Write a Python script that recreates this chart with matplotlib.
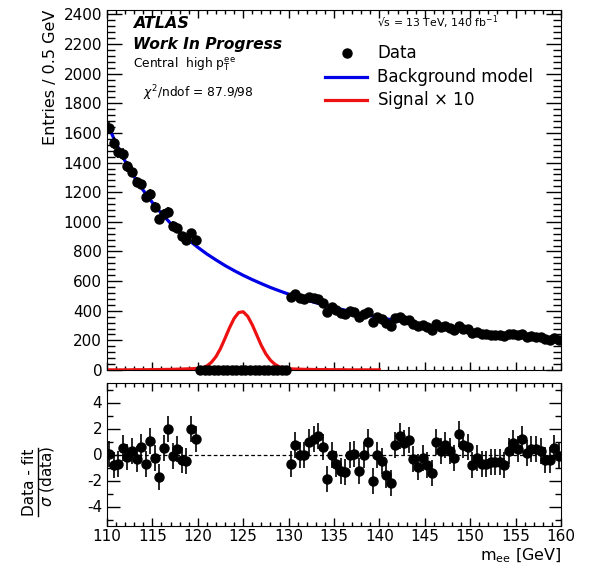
import numpy as np
import matplotlib
matplotlib.use("Agg")
import matplotlib.pyplot as plt
from matplotlib.ticker import MultipleLocator
from matplotlib.lines import Line2D

plt.rcParams["font.family"] = ["DejaVu Sans"]
plt.rcParams["mathtext.fontset"] = "dejavusans"
plt.rcParams["axes.unicode_minus"] = False

# ==============================
# Data (0.5 GeV bins, 120-130 GeV blinded)
# ==============================
low_centres = np.arange(110.25, 120.0, 0.5)
blind_centres = np.arange(120.25, 130.0, 0.5)
high_centres = np.arange(130.25, 160.0, 0.5)

data_low = [1633, 1533, 1472, 1458, 1376, 1339, 1268, 1256, 1165, 1186,
            1103, 1017, 1055, 1069, 972, 960, 903, 875, 922, 875]
data_high = [491, 513, 486, 476, 490, 485, 481, 454, 393, 425,
             403, 385, 377, 396, 391, 359, 375, 389, 325, 358,
             343, 316, 300, 349, 356, 340, 340, 309, 294, 301,
             288, 273, 310, 292, 296, 284, 271, 299, 280, 276,
             249, 254, 243, 241, 239, 236, 233, 227, 241, 246,
             236, 245, 226, 227, 225, 220, 207, 204, 216, 204]

pull_low = [0.05, -0.77, -0.7, 0.5, -0.2, 0.25, -0.35, 0.6, -0.75, 1.05,
            -0.25, -1.75, 0.5, 2.0, -0.1, 0.45, -0.45, -0.5, 1.95, 1.2]
pull_high = [-0.7, 0.7, -0.05, -0.05, 1.0, 1.2, 1.45, 0.6, -1.9, 0.0,
             -0.7, -1.3, -1.35, -0.05, 0.05, -1.25, -0.05, 1.0, -2.05, 0.0,
             -0.5, -1.6, -2.2, 0.7, 1.45, 0.85, 1.1, -0.35, -0.95, -0.3,
             -0.8, -1.4, 1.0, 0.25, 0.7, 0.25, -0.3, 1.6, 0.7, 0.6,
             -0.8, -0.3, -0.75, -0.7, -0.6, -0.55, -0.6, -0.8, 0.3, 0.85,
             0.4, 1.2, 0.15, 0.4, 0.4, 0.25, -0.45, -0.45, 0.5, -0.15]

# background fit evaluated every 1 GeV
bkg_mass = np.arange(110, 161, 1)
bkg_curve = [1665, 1529, 1409, 1304, 1212, 1130, 1056, 990, 931, 877,
             828, 783, 743, 705, 671, 639, 610, 583, 557, 534,
             512, 492, 472, 454, 437, 421, 407, 393, 379, 367,
             355, 343, 333, 322, 313, 304, 295, 286, 278, 271,
             264, 257, 250, 244, 237, 232, 226, 220, 215, 210, 205]

# signal shape (x10) every 0.5 GeV
sig_mass = np.arange(110, 140.25, 0.5)
sig_curve = [1, 1, 1, 1, 1, 1, 2, 2, 2, 2, 3, 3, 3, 4, 4, 5, 6, 7, 8, 9,
             11, 15, 27, 52, 90, 145, 214, 286, 348, 388,
             393, 362, 305, 235, 165, 108, 66, 38, 21, 13,
             9, 7, 6, 5, 4, 4, 3, 3, 3, 2, 2, 2, 2, 1, 1, 1, 1, 1, 1, 1, 1]

W, H = 590, 574
BLUE = "#0000e6"
RED = "#ee1111"


def fx(px):
    return px / W


def fy(py):
    return 1 - py / H


fig = plt.figure(figsize=(W / 100, H / 100), dpi=100)
ax = fig.add_axes([fx(107), fy(370), fx(561) - fx(107), fy(10) - fy(370)])
rax = fig.add_axes([fx(107), fy(526), fx(561) - fx(107), fy(383) - fy(526)])

# ==============================
# Main panel
# ==============================
ax.plot(bkg_mass, bkg_curve, color=BLUE, lw=2.3, zorder=2)
ax.plot(sig_mass, sig_curve, color=RED, lw=2.3, zorder=2)

data_low = np.array(data_low)
data_high = np.array(data_high)
ax.errorbar(low_centres, data_low, yerr=np.sqrt(data_low), fmt="o", color="black",
            ms=6.5, elinewidth=1.2, capsize=0, zorder=3)
ax.errorbar(high_centres, data_high, yerr=np.sqrt(data_high), fmt="o", color="black",
            ms=6.5, elinewidth=1.2, capsize=0, zorder=3)
ax.plot(blind_centres, np.zeros(len(blind_centres)), "o", color="black", ms=6.5,
        zorder=3, clip_on=False)

ax.set_xlim(110, 160)
ax.set_ylim(0, 2430)
ax.xaxis.set_major_locator(MultipleLocator(5))
ax.xaxis.set_minor_locator(MultipleLocator(1))
ax.yaxis.set_major_locator(MultipleLocator(200))
ax.yaxis.set_minor_locator(MultipleLocator(40))
ax.tick_params(axis="both", which="both", direction="in", top=True, right=True,
               labelbottom=False, labelsize=11, width=1)
ax.tick_params(axis="y", which="major", length=11)
ax.tick_params(axis="y", which="minor", length=5.5)
ax.tick_params(axis="x", which="major", length=6)
ax.tick_params(axis="x", which="minor", length=3)
ax.set_ylabel("Entries / 0.5 GeV", fontsize=11.5, loc="top", labelpad=4)

# labels
ax.text(fx(133), fy(23), "ATLAS", transform=fig.transFigure, fontsize=11.5,
        fontweight="bold", fontstyle="italic", va="center")
ax.text(fx(133), fy(44), "Work In Progress", transform=fig.transFigure, fontsize=11.2,
        fontweight="bold", fontstyle="italic", va="center")
ax.text(fx(133), fy(64), r"Central  high p$_{\mathrm{T}}^{\mathrm{ee}}$",
        transform=fig.transFigure, fontsize=8.8, va="center")
ax.text(fx(143), fy(93), r"$\chi^{2}$/ndof = 87.9/98", transform=fig.transFigure,
        fontsize=8.8, va="center")

# legend
ax.text(fx(377), fy(22), "\u221as = 13 TeV, 140 fb$^{-1}$", transform=fig.transFigure,
        fontsize=7.8, va="center")
fig.add_artist(Line2D([fx(347)], [fy(53)], marker="o", color="black", ms=6.5, lw=0))
fig.add_artist(Line2D([fx(325), fx(367)], [fy(77), fy(77)], color=BLUE, lw=2.3))
fig.add_artist(Line2D([fx(325), fx(367)], [fy(100), fy(100)], color=RED, lw=2.3))
ax.text(fx(377), fy(53), "Data", transform=fig.transFigure, fontsize=12, va="center")
ax.text(fx(377), fy(77), "Background model", transform=fig.transFigure, fontsize=12,
        va="center")
ax.text(fx(377), fy(100), r"Signal $\times$ 10", transform=fig.transFigure, fontsize=12,
        va="center")

# ==============================
# Pull panel
# ==============================
rax.axhline(0, color="black", lw=0.9, ls=(0, (3, 2)), zorder=1)
rax.errorbar(low_centres, pull_low, yerr=1, fmt="o", color="black", ms=6.5,
             elinewidth=1.2, capsize=0, zorder=3)
rax.errorbar(high_centres, pull_high, yerr=1, fmt="o", color="black", ms=6.5,
             elinewidth=1.2, capsize=0, zorder=3)
rax.set_xlim(110, 160)
rax.set_ylim(-5.5, 5.5)
rax.xaxis.set_major_locator(MultipleLocator(5))
rax.xaxis.set_minor_locator(MultipleLocator(1))
rax.yaxis.set_major_locator(MultipleLocator(2))
rax.yaxis.set_minor_locator(MultipleLocator(1))
rax.tick_params(axis="both", which="both", direction="in", top=True, right=True,
                labelsize=11, width=1)
rax.tick_params(axis="y", which="major", length=9)
rax.tick_params(axis="y", which="minor", length=4.5)
rax.tick_params(axis="x", which="major", length=6)
rax.tick_params(axis="x", which="minor", length=3)
rax.tick_params(axis="x", pad=2)
rax.set_xlabel(r"m$_{\mathrm{ee}}$ [GeV]", fontsize=11.5, loc="right", labelpad=2)

# fraction-style y title
fig.text(fx(30), fy(482), "Data - fit", rotation=90, fontsize=11, ha="center", va="center")
fig.add_artist(Line2D([fx(38), fx(38)], [fy(448), fy(516)], color="black", lw=1))
fig.text(fx(47), fy(476), r"$\sigma$ (data)", rotation=90, fontsize=11, ha="center",
         va="center")

fig.savefig("out.png", dpi=100)
